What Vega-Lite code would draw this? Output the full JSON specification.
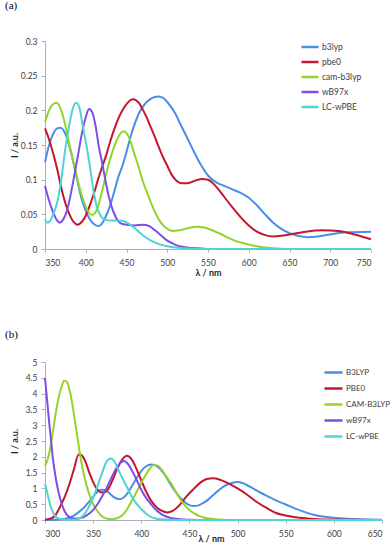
{
"$schema":"https://vega.github.io/schema/vega-lite/v6.json",
"padding":{"left":5,"top":0,"right":0,"bottom":0},
"background":"white",
"bounds":"flush",
"spacing":113,
"config":{"view":{"stroke":null},"font":"Lato",
 "axis":{"labelFontSize":8.5,"labelColor":"#404040","titleFontSize":9,"titleFontWeight":"bold","titleColor":"#262626","domainColor":"#a7b3c2","tickColor":"#a7b3c2","grid":false,"labelFont":"Lato","titleFont":"Lato"},
 "legend":{"labelFontSize":8.5,"labelColor":"#404040","labelFont":"Lato"},
 "title":{"font":"Liberation Serif","fontSize":11,"fontWeight":"normal","color":"#000000","anchor":"start","frame":"bounds"}
},
"resolve":{"scale":{"color":"independent"}},
"datasets":{
"a":[
{"m":"b3lyp","x":350,"y":0.125},{"m":"b3lyp","x":355,"y":0.15},{"m":"b3lyp","x":360,"y":0.166},{"m":"b3lyp","x":365,"y":0.174},{"m":"b3lyp","x":369,"y":0.175},{"m":"b3lyp","x":375,"y":0.166},{"m":"b3lyp","x":380,"y":0.148},{"m":"b3lyp","x":385,"y":0.124},{"m":"b3lyp","x":390,"y":0.097},{"m":"b3lyp","x":395,"y":0.072},{"m":"b3lyp","x":400,"y":0.055},{"m":"b3lyp","x":405,"y":0.043},{"m":"b3lyp","x":410,"y":0.036},{"m":"b3lyp","x":416,"y":0.033},{"m":"b3lyp","x":420,"y":0.037},{"m":"b3lyp","x":425,"y":0.048},{"m":"b3lyp","x":430,"y":0.063},{"m":"b3lyp","x":435,"y":0.083},{"m":"b3lyp","x":440,"y":0.104},{"m":"b3lyp","x":445,"y":0.12},{"m":"b3lyp","x":450,"y":0.14},{"m":"b3lyp","x":455,"y":0.162},{"m":"b3lyp","x":460,"y":0.18},{"m":"b3lyp","x":465,"y":0.195},{"m":"b3lyp","x":470,"y":0.205},{"m":"b3lyp","x":480,"y":0.217},{"m":"b3lyp","x":489,"y":0.22},{"m":"b3lyp","x":495,"y":0.218},{"m":"b3lyp","x":500,"y":0.212},{"m":"b3lyp","x":510,"y":0.195},{"m":"b3lyp","x":517,"y":0.178},{"m":"b3lyp","x":520,"y":0.171},{"m":"b3lyp","x":530,"y":0.147},{"m":"b3lyp","x":540,"y":0.124},{"m":"b3lyp","x":550,"y":0.106},{"m":"b3lyp","x":560,"y":0.096},{"m":"b3lyp","x":570,"y":0.091},{"m":"b3lyp","x":580,"y":0.086},{"m":"b3lyp","x":590,"y":0.081},{"m":"b3lyp","x":600,"y":0.074},{"m":"b3lyp","x":610,"y":0.063},{"m":"b3lyp","x":620,"y":0.05},{"m":"b3lyp","x":630,"y":0.038},{"m":"b3lyp","x":640,"y":0.029},{"m":"b3lyp","x":650,"y":0.023},{"m":"b3lyp","x":660,"y":0.019},{"m":"b3lyp","x":672,"y":0.017},{"m":"b3lyp","x":685,"y":0.018},{"m":"b3lyp","x":700,"y":0.021},{"m":"b3lyp","x":720,"y":0.024},{"m":"b3lyp","x":750,"y":0.025},
{"m":"pbe0","x":350,"y":0.174},{"m":"pbe0","x":355,"y":0.158},{"m":"pbe0","x":360,"y":0.138},{"m":"pbe0","x":365,"y":0.115},{"m":"pbe0","x":370,"y":0.088},{"m":"pbe0","x":375,"y":0.066},{"m":"pbe0","x":380,"y":0.05},{"m":"pbe0","x":385,"y":0.039},{"m":"pbe0","x":390,"y":0.035},{"m":"pbe0","x":395,"y":0.039},{"m":"pbe0","x":400,"y":0.048},{"m":"pbe0","x":405,"y":0.063},{"m":"pbe0","x":410,"y":0.08},{"m":"pbe0","x":415,"y":0.1},{"m":"pbe0","x":420,"y":0.118},{"m":"pbe0","x":425,"y":0.135},{"m":"pbe0","x":430,"y":0.155},{"m":"pbe0","x":435,"y":0.173},{"m":"pbe0","x":440,"y":0.188},{"m":"pbe0","x":445,"y":0.2},{"m":"pbe0","x":450,"y":0.209},{"m":"pbe0","x":458,"y":0.216},{"m":"pbe0","x":465,"y":0.211},{"m":"pbe0","x":470,"y":0.201},{"m":"pbe0","x":475,"y":0.189},{"m":"pbe0","x":480,"y":0.175},{"m":"pbe0","x":485,"y":0.161},{"m":"pbe0","x":490,"y":0.146},{"m":"pbe0","x":495,"y":0.132},{"m":"pbe0","x":500,"y":0.12},{"m":"pbe0","x":505,"y":0.108},{"m":"pbe0","x":510,"y":0.1},{"m":"pbe0","x":517,"y":0.095},{"m":"pbe0","x":525,"y":0.095},{"m":"pbe0","x":535,"y":0.099},{"m":"pbe0","x":543,"y":0.101},{"m":"pbe0","x":550,"y":0.1},{"m":"pbe0","x":555,"y":0.096},{"m":"pbe0","x":560,"y":0.09},{"m":"pbe0","x":570,"y":0.075},{"m":"pbe0","x":580,"y":0.06},{"m":"pbe0","x":590,"y":0.046},{"m":"pbe0","x":600,"y":0.034},{"m":"pbe0","x":610,"y":0.025},{"m":"pbe0","x":620,"y":0.02},{"m":"pbe0","x":630,"y":0.018},{"m":"pbe0","x":640,"y":0.019},{"m":"pbe0","x":650,"y":0.021},{"m":"pbe0","x":670,"y":0.025},{"m":"pbe0","x":690,"y":0.027},{"m":"pbe0","x":710,"y":0.026},{"m":"pbe0","x":730,"y":0.021},{"m":"pbe0","x":750,"y":0.014},
{"m":"cam-b3lyp","x":350,"y":0.183},{"m":"cam-b3lyp","x":355,"y":0.2},{"m":"cam-b3lyp","x":360,"y":0.209},{"m":"cam-b3lyp","x":364,"y":0.211},{"m":"cam-b3lyp","x":370,"y":0.2},{"m":"cam-b3lyp","x":375,"y":0.178},{"m":"cam-b3lyp","x":380,"y":0.15},{"m":"cam-b3lyp","x":385,"y":0.125},{"m":"cam-b3lyp","x":390,"y":0.1},{"m":"cam-b3lyp","x":395,"y":0.078},{"m":"cam-b3lyp","x":400,"y":0.061},{"m":"cam-b3lyp","x":404,"y":0.052},{"m":"cam-b3lyp","x":408,"y":0.049},{"m":"cam-b3lyp","x":412,"y":0.053},{"m":"cam-b3lyp","x":416,"y":0.065},{"m":"cam-b3lyp","x":420,"y":0.083},{"m":"cam-b3lyp","x":425,"y":0.108},{"m":"cam-b3lyp","x":430,"y":0.13},{"m":"cam-b3lyp","x":435,"y":0.148},{"m":"cam-b3lyp","x":440,"y":0.162},{"m":"cam-b3lyp","x":446,"y":0.17},{"m":"cam-b3lyp","x":450,"y":0.167},{"m":"cam-b3lyp","x":455,"y":0.155},{"m":"cam-b3lyp","x":460,"y":0.136},{"m":"cam-b3lyp","x":465,"y":0.118},{"m":"cam-b3lyp","x":470,"y":0.098},{"m":"cam-b3lyp","x":475,"y":0.082},{"m":"cam-b3lyp","x":480,"y":0.067},{"m":"cam-b3lyp","x":485,"y":0.053},{"m":"cam-b3lyp","x":490,"y":0.042},{"m":"cam-b3lyp","x":495,"y":0.034},{"m":"cam-b3lyp","x":500,"y":0.029},{"m":"cam-b3lyp","x":507,"y":0.026},{"m":"cam-b3lyp","x":515,"y":0.027},{"m":"cam-b3lyp","x":525,"y":0.03},{"m":"cam-b3lyp","x":537,"y":0.032},{"m":"cam-b3lyp","x":545,"y":0.031},{"m":"cam-b3lyp","x":555,"y":0.027},{"m":"cam-b3lyp","x":565,"y":0.022},{"m":"cam-b3lyp","x":575,"y":0.016},{"m":"cam-b3lyp","x":585,"y":0.011},{"m":"cam-b3lyp","x":595,"y":0.008},{"m":"cam-b3lyp","x":605,"y":0.005},{"m":"cam-b3lyp","x":615,"y":0.003},{"m":"cam-b3lyp","x":630,"y":0.001},{"m":"cam-b3lyp","x":650,"y":0},{"m":"cam-b3lyp","x":750,"y":0},
{"m":"wB97x","x":350,"y":0.091},{"m":"wB97x","x":355,"y":0.07},{"m":"wB97x","x":360,"y":0.053},{"m":"wB97x","x":365,"y":0.041},{"m":"wB97x","x":368,"y":0.038},{"m":"wB97x","x":372,"y":0.042},{"m":"wB97x","x":376,"y":0.052},{"m":"wB97x","x":380,"y":0.07},{"m":"wB97x","x":385,"y":0.1},{"m":"wB97x","x":390,"y":0.132},{"m":"wB97x","x":395,"y":0.165},{"m":"wB97x","x":400,"y":0.19},{"m":"wB97x","x":404,"y":0.202},{"m":"wB97x","x":408,"y":0.197},{"m":"wB97x","x":412,"y":0.178},{"m":"wB97x","x":416,"y":0.148},{"m":"wB97x","x":420,"y":0.125},{"m":"wB97x","x":424,"y":0.1},{"m":"wB97x","x":428,"y":0.077},{"m":"wB97x","x":432,"y":0.06},{"m":"wB97x","x":436,"y":0.048},{"m":"wB97x","x":440,"y":0.04},{"m":"wB97x","x":445,"y":0.036},{"m":"wB97x","x":450,"y":0.035},{"m":"wB97x","x":460,"y":0.034},{"m":"wB97x","x":470,"y":0.035},{"m":"wB97x","x":478,"y":0.033},{"m":"wB97x","x":485,"y":0.027},{"m":"wB97x","x":490,"y":0.022},{"m":"wB97x","x":495,"y":0.017},{"m":"wB97x","x":500,"y":0.012},{"m":"wB97x","x":505,"y":0.009},{"m":"wB97x","x":510,"y":0.006},{"m":"wB97x","x":520,"y":0.003},{"m":"wB97x","x":530,"y":0.0015},{"m":"wB97x","x":545,"y":0.0005},{"m":"wB97x","x":560,"y":0},{"m":"wB97x","x":750,"y":0},
{"m":"LC-wPBE","x":350,"y":0.043},{"m":"LC-wPBE","x":353,"y":0.038},{"m":"LC-wPBE","x":356,"y":0.04},{"m":"LC-wPBE","x":360,"y":0.05},{"m":"LC-wPBE","x":365,"y":0.067},{"m":"LC-wPBE","x":370,"y":0.1},{"m":"LC-wPBE","x":375,"y":0.145},{"m":"LC-wPBE","x":380,"y":0.18},{"m":"LC-wPBE","x":384,"y":0.202},{"m":"LC-wPBE","x":388,"y":0.211},{"m":"LC-wPBE","x":392,"y":0.205},{"m":"LC-wPBE","x":396,"y":0.18},{"m":"LC-wPBE","x":400,"y":0.155},{"m":"LC-wPBE","x":405,"y":0.12},{"m":"LC-wPBE","x":410,"y":0.08},{"m":"LC-wPBE","x":415,"y":0.056},{"m":"LC-wPBE","x":420,"y":0.045},{"m":"LC-wPBE","x":425,"y":0.042},{"m":"LC-wPBE","x":430,"y":0.041},{"m":"LC-wPBE","x":440,"y":0.041},{"m":"LC-wPBE","x":447,"y":0.04},{"m":"LC-wPBE","x":452,"y":0.037},{"m":"LC-wPBE","x":458,"y":0.032},{"m":"LC-wPBE","x":465,"y":0.025},{"m":"LC-wPBE","x":472,"y":0.018},{"m":"LC-wPBE","x":480,"y":0.012},{"m":"LC-wPBE","x":490,"y":0.007},{"m":"LC-wPBE","x":500,"y":0.004},{"m":"LC-wPBE","x":510,"y":0.002},{"m":"LC-wPBE","x":520,"y":0.001},{"m":"LC-wPBE","x":540,"y":0},{"m":"LC-wPBE","x":750,"y":0}
],
"b":[
{"m":"B3LYP","x":300,"y":0},{"m":"B3LYP","x":310,"y":0.005},{"m":"B3LYP","x":320,"y":0.03},{"m":"B3LYP","x":325,"y":0.07},{"m":"B3LYP","x":330,"y":0.14},{"m":"B3LYP","x":335,"y":0.25},{"m":"B3LYP","x":340,"y":0.38},{"m":"B3LYP","x":345,"y":0.55},{"m":"B3LYP","x":350,"y":0.74},{"m":"B3LYP","x":355,"y":0.9},{"m":"B3LYP","x":358,"y":0.96},{"m":"B3LYP","x":362,"y":0.95},{"m":"B3LYP","x":366,"y":0.87},{"m":"B3LYP","x":370,"y":0.76},{"m":"B3LYP","x":374,"y":0.68},{"m":"B3LYP","x":378,"y":0.66},{"m":"B3LYP","x":382,"y":0.72},{"m":"B3LYP","x":386,"y":0.86},{"m":"B3LYP","x":390,"y":1.06},{"m":"B3LYP","x":395,"y":1.32},{"m":"B3LYP","x":400,"y":1.55},{"m":"B3LYP","x":405,"y":1.7},{"m":"B3LYP","x":410,"y":1.76},{"m":"B3LYP","x":414,"y":1.74},{"m":"B3LYP","x":420,"y":1.6},{"m":"B3LYP","x":425,"y":1.4},{"m":"B3LYP","x":430,"y":1.15},{"m":"B3LYP","x":435,"y":0.92},{"m":"B3LYP","x":440,"y":0.72},{"m":"B3LYP","x":445,"y":0.57},{"m":"B3LYP","x":450,"y":0.47},{"m":"B3LYP","x":455,"y":0.44},{"m":"B3LYP","x":460,"y":0.47},{"m":"B3LYP","x":465,"y":0.55},{"m":"B3LYP","x":470,"y":0.66},{"m":"B3LYP","x":475,"y":0.8},{"m":"B3LYP","x":480,"y":0.93},{"m":"B3LYP","x":485,"y":1.05},{"m":"B3LYP","x":490,"y":1.13},{"m":"B3LYP","x":495,"y":1.18},{"m":"B3LYP","x":500,"y":1.2},{"m":"B3LYP","x":505,"y":1.17},{"m":"B3LYP","x":510,"y":1.1},{"m":"B3LYP","x":515,"y":1.02},{"m":"B3LYP","x":520,"y":0.93},{"m":"B3LYP","x":530,"y":0.77},{"m":"B3LYP","x":540,"y":0.62},{"m":"B3LYP","x":550,"y":0.49},{"m":"B3LYP","x":560,"y":0.36},{"m":"B3LYP","x":570,"y":0.25},{"m":"B3LYP","x":580,"y":0.16},{"m":"B3LYP","x":590,"y":0.1},{"m":"B3LYP","x":600,"y":0.07},{"m":"B3LYP","x":610,"y":0.045},{"m":"B3LYP","x":620,"y":0.03},{"m":"B3LYP","x":635,"y":0.015},{"m":"B3LYP","x":650,"y":0.008},
{"m":"PBE0","x":300,"y":0.01},{"m":"PBE0","x":305,"y":0.04},{"m":"PBE0","x":310,"y":0.12},{"m":"PBE0","x":315,"y":0.38},{"m":"PBE0","x":320,"y":0.7},{"m":"PBE0","x":325,"y":1.1},{"m":"PBE0","x":330,"y":1.6},{"m":"PBE0","x":335,"y":2.07},{"m":"PBE0","x":338,"y":2.05},{"m":"PBE0","x":342,"y":1.85},{"m":"PBE0","x":346,"y":1.5},{"m":"PBE0","x":350,"y":1.2},{"m":"PBE0","x":354,"y":0.98},{"m":"PBE0","x":358,"y":0.88},{"m":"PBE0","x":361,"y":0.87},{"m":"PBE0","x":365,"y":0.95},{"m":"PBE0","x":370,"y":1.25},{"m":"PBE0","x":375,"y":1.62},{"m":"PBE0","x":380,"y":1.9},{"m":"PBE0","x":385,"y":2.03},{"m":"PBE0","x":390,"y":1.92},{"m":"PBE0","x":395,"y":1.62},{"m":"PBE0","x":400,"y":1.25},{"m":"PBE0","x":405,"y":0.9},{"m":"PBE0","x":410,"y":0.62},{"m":"PBE0","x":415,"y":0.43},{"m":"PBE0","x":420,"y":0.31},{"m":"PBE0","x":427,"y":0.24},{"m":"PBE0","x":433,"y":0.3},{"m":"PBE0","x":440,"y":0.48},{"m":"PBE0","x":447,"y":0.75},{"m":"PBE0","x":455,"y":1.0},{"m":"PBE0","x":462,"y":1.2},{"m":"PBE0","x":468,"y":1.3},{"m":"PBE0","x":475,"y":1.32},{"m":"PBE0","x":482,"y":1.27},{"m":"PBE0","x":490,"y":1.17},{"m":"PBE0","x":500,"y":1.0},{"m":"PBE0","x":510,"y":0.8},{"m":"PBE0","x":520,"y":0.57},{"m":"PBE0","x":530,"y":0.38},{"m":"PBE0","x":540,"y":0.22},{"m":"PBE0","x":550,"y":0.14},{"m":"PBE0","x":560,"y":0.09},{"m":"PBE0","x":570,"y":0.055},{"m":"PBE0","x":580,"y":0.03},{"m":"PBE0","x":595,"y":0.012},{"m":"PBE0","x":610,"y":0.004},{"m":"PBE0","x":650,"y":0},
{"m":"CAM-B3LYP","x":300,"y":1.72},{"m":"CAM-B3LYP","x":302,"y":1.85},{"m":"CAM-B3LYP","x":305,"y":2.2},{"m":"CAM-B3LYP","x":308,"y":2.75},{"m":"CAM-B3LYP","x":311,"y":3.35},{"m":"CAM-B3LYP","x":314,"y":3.85},{"m":"CAM-B3LYP","x":317,"y":4.2},{"m":"CAM-B3LYP","x":320,"y":4.41},{"m":"CAM-B3LYP","x":323,"y":4.36},{"m":"CAM-B3LYP","x":326,"y":4.05},{"m":"CAM-B3LYP","x":329,"y":3.55},{"m":"CAM-B3LYP","x":332,"y":2.95},{"m":"CAM-B3LYP","x":335,"y":2.35},{"m":"CAM-B3LYP","x":338,"y":1.8},{"m":"CAM-B3LYP","x":341,"y":1.35},{"m":"CAM-B3LYP","x":344,"y":1.0},{"m":"CAM-B3LYP","x":347,"y":0.72},{"m":"CAM-B3LYP","x":350,"y":0.5},{"m":"CAM-B3LYP","x":354,"y":0.3},{"m":"CAM-B3LYP","x":358,"y":0.15},{"m":"CAM-B3LYP","x":362,"y":0.07},{"m":"CAM-B3LYP","x":366,"y":0.03},{"m":"CAM-B3LYP","x":370,"y":0.03},{"m":"CAM-B3LYP","x":374,"y":0.05},{"m":"CAM-B3LYP","x":378,"y":0.1},{"m":"CAM-B3LYP","x":382,"y":0.2},{"m":"CAM-B3LYP","x":386,"y":0.38},{"m":"CAM-B3LYP","x":390,"y":0.6},{"m":"CAM-B3LYP","x":395,"y":0.88},{"m":"CAM-B3LYP","x":400,"y":1.18},{"m":"CAM-B3LYP","x":405,"y":1.45},{"m":"CAM-B3LYP","x":409,"y":1.63},{"m":"CAM-B3LYP","x":413,"y":1.74},{"m":"CAM-B3LYP","x":417,"y":1.72},{"m":"CAM-B3LYP","x":421,"y":1.6},{"m":"CAM-B3LYP","x":425,"y":1.42},{"m":"CAM-B3LYP","x":430,"y":1.2},{"m":"CAM-B3LYP","x":434,"y":1.0},{"m":"CAM-B3LYP","x":438,"y":0.78},{"m":"CAM-B3LYP","x":442,"y":0.59},{"m":"CAM-B3LYP","x":446,"y":0.44},{"m":"CAM-B3LYP","x":450,"y":0.32},{"m":"CAM-B3LYP","x":455,"y":0.21},{"m":"CAM-B3LYP","x":460,"y":0.13},{"m":"CAM-B3LYP","x":465,"y":0.08},{"m":"CAM-B3LYP","x":470,"y":0.05},{"m":"CAM-B3LYP","x":480,"y":0.015},{"m":"CAM-B3LYP","x":490,"y":0.003},{"m":"CAM-B3LYP","x":500,"y":0},{"m":"CAM-B3LYP","x":650,"y":0},
{"m":"wB97x","x":300,"y":4.5},{"m":"wB97x","x":302,"y":3.85},{"m":"wB97x","x":304,"y":3.2},{"m":"wB97x","x":306,"y":2.6},{"m":"wB97x","x":308,"y":2.0},{"m":"wB97x","x":310,"y":1.55},{"m":"wB97x","x":313,"y":1.03},{"m":"wB97x","x":316,"y":0.65},{"m":"wB97x","x":320,"y":0.3},{"m":"wB97x","x":325,"y":0.1},{"m":"wB97x","x":330,"y":0.05},{"m":"wB97x","x":335,"y":0.05},{"m":"wB97x","x":340,"y":0.09},{"m":"wB97x","x":345,"y":0.18},{"m":"wB97x","x":350,"y":0.32},{"m":"wB97x","x":355,"y":0.52},{"m":"wB97x","x":360,"y":0.78},{"m":"wB97x","x":365,"y":1.08},{"m":"wB97x","x":370,"y":1.4},{"m":"wB97x","x":375,"y":1.68},{"m":"wB97x","x":380,"y":1.85},{"m":"wB97x","x":382,"y":1.87},{"m":"wB97x","x":386,"y":1.78},{"m":"wB97x","x":390,"y":1.58},{"m":"wB97x","x":395,"y":1.28},{"m":"wB97x","x":400,"y":0.96},{"m":"wB97x","x":405,"y":0.7},{"m":"wB97x","x":410,"y":0.5},{"m":"wB97x","x":415,"y":0.33},{"m":"wB97x","x":420,"y":0.2},{"m":"wB97x","x":425,"y":0.12},{"m":"wB97x","x":430,"y":0.07},{"m":"wB97x","x":440,"y":0.025},{"m":"wB97x","x":450,"y":0.008},{"m":"wB97x","x":460,"y":0.002},{"m":"wB97x","x":470,"y":0},{"m":"wB97x","x":650,"y":0},
{"m":"LC-wPBE","x":300,"y":1.15},{"m":"LC-wPBE","x":302,"y":0.9},{"m":"LC-wPBE","x":304,"y":0.65},{"m":"LC-wPBE","x":306,"y":0.42},{"m":"LC-wPBE","x":309,"y":0.2},{"m":"LC-wPBE","x":312,"y":0.09},{"m":"LC-wPBE","x":316,"y":0.03},{"m":"LC-wPBE","x":320,"y":0.01},{"m":"LC-wPBE","x":330,"y":0.01},{"m":"LC-wPBE","x":335,"y":0.04},{"m":"LC-wPBE","x":340,"y":0.15},{"m":"LC-wPBE","x":345,"y":0.38},{"m":"LC-wPBE","x":350,"y":0.7},{"m":"LC-wPBE","x":355,"y":1.12},{"m":"LC-wPBE","x":360,"y":1.55},{"m":"LC-wPBE","x":364,"y":1.85},{"m":"LC-wPBE","x":368,"y":1.95},{"m":"LC-wPBE","x":372,"y":1.86},{"m":"LC-wPBE","x":376,"y":1.6},{"m":"LC-wPBE","x":380,"y":1.35},{"m":"LC-wPBE","x":385,"y":1.05},{"m":"LC-wPBE","x":390,"y":0.75},{"m":"LC-wPBE","x":395,"y":0.52},{"m":"LC-wPBE","x":400,"y":0.35},{"m":"LC-wPBE","x":405,"y":0.2},{"m":"LC-wPBE","x":410,"y":0.1},{"m":"LC-wPBE","x":415,"y":0.05},{"m":"LC-wPBE","x":420,"y":0.02},{"m":"LC-wPBE","x":430,"y":0.005},{"m":"LC-wPBE","x":440,"y":0},{"m":"LC-wPBE","x":650,"y":0}
]},
"vconcat":[
{"title":{"text":"(a)","offset":26,"dx":-5},
 "width":326,"height":208,
 "data":{"name":"a"},
 "mark":{"type":"line","interpolate":"monotone","strokeWidth":2},
 "encoding":{
  "x":{"field":"x","type":"quantitative","scale":{"domain":[350,750],"nice":false,"zero":false},
   "axis":{"values":[350,400,450,500,550,600,650,700,750],"title":"λ / nm","tickSize":3,"labelPadding":6,"titleY":23.5,"titleBaseline":"middle"}},
  "y":{"field":"y","type":"quantitative","scale":{"domain":[0,0.3],"nice":false},
   "axis":{"values":[0,0.05,0.1,0.15,0.2,0.25,0.3],"format":"~g","title":"I / a.u.","tickSize":4,"labelPadding":4,"titleX":-26}},
  "color":{"field":"m","type":"nominal","scale":{"domain":["b3lyp","pbe0","cam-b3lyp","wB97x","LC-wPBE"],"range":["#4a8ee8","#c4172f","#92d42a","#7b4fe6","#4fd3d3"]},
   "legend":{"orient":"none","legendX":255,"legendY":-4,"title":null,"symbolType":"stroke","symbolSize":289,"symbolStrokeWidth":2.5,"rowPadding":-2.7,"labelOffset":2}}
 }},
{"title":{"text":"(b)","offset":18,"dx":-5},
 "width":337,"height":158,
 "data":{"name":"b"},
 "mark":{"type":"line","interpolate":"monotone","strokeWidth":2},
 "encoding":{
  "x":{"field":"x","type":"quantitative","scale":{"domain":[300,650],"nice":false,"zero":false},
   "axis":{"values":[300,350,400,450,500,550,600,650],"title":"λ / nm","tickSize":3,"labelPadding":6,"titleY":18,"titleX":166,"titleBaseline":"middle"}},
  "y":{"field":"y","type":"quantitative","scale":{"domain":[0,5],"nice":false},
   "axis":{"values":[0,0.5,1,1.5,2,2.5,3,3.5,4,4.5,5],"format":"~g","title":"I / a.u.","tickSize":4,"labelPadding":4,"titleX":-26}},
  "color":{"field":"m","type":"nominal","scale":{"domain":["B3LYP","PBE0","CAM-B3LYP","wB97x","LC-wPBE"],"range":["#4a8ee8","#c4172f","#92d42a","#7b4fe6","#4fd3d3"]},
   "legend":{"orient":"none","legendX":278,"legendY":0,"title":null,"symbolType":"stroke","symbolSize":324,"symbolStrokeWidth":2.5,"rowPadding":-5.5,"labelOffset":2,"labelFontSize":8}}
 }}
]
}
